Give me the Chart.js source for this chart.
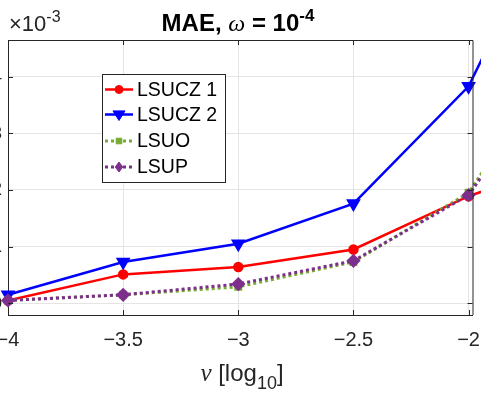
<!DOCTYPE html>
<html>
<head>
<meta charset="utf-8">
<script src="https://cdn.jsdelivr.net/npm/chart.js@4/dist/chart.umd.min.js"></script>
<style>
html, body { margin: 0; padding: 0; background: #fff; overflow: hidden; }
#wrap { position: relative; width: 481px; height: 396px; overflow: hidden; }
#c { position: absolute; left: -50px; top: 0; }
</style>
</head>
<body>
<div id="wrap"><canvas id="c" width="531" height="396"></canvas></div>
<script>
// values in units of 1e-3
var nu = [-4, -3.5, -3, -2.5, -2, -1.5];
var lsucz1 = [0.05, 0.51, 0.64, 0.95, 1.89, 2.6];
var lsucz2 = [0.15, 0.73, 1.05, 1.76, 3.83, 8.0];
var lsuo = [0.05, 0.15, 0.29, 0.73, 1.95, 5.0];
var lsup = [0.05, 0.15, 0.34, 0.75, 1.91, 4.8];
var xTicks = [-4, -3.5, -3, -2.5, -2];
var yTicks = [0, 1, 2, 3, 4];

var sans = '"Liberation Sans", Arial, sans-serif';
var serif = '"Liberation Serif", "DejaVu Serif", serif';
var axisColor = '#262626';

function pts(ys) {
	return nu.map(function(x, i) { return { x: x, y: ys[i] }; });
}

function minus(v) {
	return String(v).replace('-', '\u2212');
}

// draw a row of text pieces (for super/subscripts)
function drawPieces(ctx, pieces, x, y, align) {
	var total = 0;
	pieces.forEach(function(p) { ctx.font = p.font; p.w = ctx.measureText(p.t).width; total += p.w; });
	var cx = align === 'center' ? x - total / 2 : x;
	ctx.textAlign = 'left';
	ctx.textBaseline = 'alphabetic';
	pieces.forEach(function(p) {
		ctx.font = p.font;
		ctx.fillStyle = p.color || axisColor;
		ctx.fillText(p.t, cx, y + (p.dy || 0));
		cx += p.w;
	});
}

function marker(ctx, ds, x, y) {
	var r = ds.pointRadius;
	ctx.save();
	ctx.fillStyle = ds.pointBackgroundColor;
	ctx.strokeStyle = ds.pointBorderColor;
	ctx.lineWidth = 1;
	ctx.beginPath();
	if (ds.pointStyle === 'circle') {
		ctx.arc(x, y, r, 0, Math.PI * 2);
	} else if (ds.pointStyle === 'triangle') {
		ctx.moveTo(x - r, y - r * 0.6);
		ctx.lineTo(x + r, y - r * 0.6);
		ctx.lineTo(x, y + r);
	} else if (ds.pointStyle === 'rect') {
		ctx.rect(x - r * 0.8, y - r * 0.8, r * 1.6, r * 1.6);
	} else {
		ctx.moveTo(x, y - r);
		ctx.lineTo(x + r * 0.75, y);
		ctx.lineTo(x, y + r);
		ctx.lineTo(x - r * 0.75, y);
	}
	ctx.closePath();
	ctx.fill();
	ctx.stroke();
	ctx.restore();
}

var decor = {
	id: 'decor',
	afterDraw: function(chart) {
		var ctx = chart.ctx, ca = chart.chartArea;
		var xs = chart.scales.x, ys = chart.scales.y;
		ctx.save();

		// box top and right
		ctx.strokeStyle = axisColor;
		ctx.lineWidth = 1;
		ctx.beginPath();
		ctx.moveTo(ca.left, ca.top + 0.5);
		ctx.lineTo(ca.right + 0.5, ca.top + 0.5);
		ctx.lineTo(ca.right + 0.5, ca.bottom);
		ctx.stroke();

		// inward ticks
		ctx.beginPath();
		xTicks.forEach(function(v) {
			var px = Math.round(xs.getPixelForValue(v)) + 0.5;
			ctx.moveTo(px, ca.bottom); ctx.lineTo(px, ca.bottom - 5);
			ctx.moveTo(px, ca.top); ctx.lineTo(px, ca.top + 5);
		});
		yTicks.forEach(function(v) {
			var py = Math.round(ys.getPixelForValue(v)) + 0.5;
			ctx.moveTo(ca.left, py); ctx.lineTo(ca.left + 5, py);
			ctx.moveTo(ca.right, py); ctx.lineTo(ca.right - 5, py);
		});
		ctx.stroke();

		// title
		drawPieces(ctx, [
			{ t: 'MAE, ', font: 'bold 24px ' + sans, color: '#000' },
			{ t: '\u03c9', font: 'italic 24px ' + serif, color: '#000' },
			{ t: ' = 10', font: 'bold 24px ' + sans, color: '#000' },
			{ t: '-4', font: 'bold 17px ' + sans, color: '#000', dy: -10 }
		], 288, 31, 'center');

		// exponent label
		drawPieces(ctx, [
			{ t: '\u00d710', font: '22px ' + sans },
			{ t: '-3', font: '16px ' + sans, dy: -9 }
		], 59, 31, 'left');

		// x axis title
		drawPieces(ctx, [
			{ t: '\u03bd', font: 'italic 25px ' + serif },
			{ t: ' [log', font: '24px ' + sans },
			{ t: '10', font: '18px ' + sans, dy: 8 },
			{ t: ']', font: '24px ' + sans }
		], 292, 381, 'center');

		// legend
		var lx = 152, ly = 74, lw = 123, lh = 108;
		ctx.fillStyle = '#fff';
		ctx.fillRect(lx, ly, lw, lh);
		ctx.strokeStyle = axisColor;
		ctx.lineWidth = 1;
		ctx.strokeRect(lx + 0.5, ly + 0.5, lw, lh);
		var rows = [89.5, 114.5, 141, 167];
		chart.data.datasets.forEach(function(ds, i) {
			var y = rows[i];
			ctx.save();
			ctx.strokeStyle = ds.borderColor;
			ctx.lineWidth = ds.borderWidth;
			ctx.setLineDash(ds.borderDash || []);
			ctx.beginPath();
			ctx.moveTo(155, y); ctx.lineTo(183, y);
			ctx.stroke();
			ctx.restore();
			marker(ctx, ds, 169, y);
			ctx.font = '19.5px ' + sans;
			ctx.fillStyle = '#000';
			ctx.textAlign = 'left';
			ctx.textBaseline = 'middle';
			ctx.fillText(ds.label, 187, y + 1);
		});
		ctx.restore();
	}
};

new Chart(document.getElementById('c'), {
	type: 'line',
	data: {
		datasets: [
			{ label: 'LSUCZ 1', data: pts(lsucz1), borderColor: '#ff0000', backgroundColor: '#ff0000',
				pointBackgroundColor: '#ff0000', pointBorderColor: '#ff0000', borderWidth: 2.5,
				pointStyle: 'circle', pointRadius: 4, order: 4 },
			{ label: 'LSUCZ 2', data: pts(lsucz2), borderColor: '#0000ff', backgroundColor: '#0000ff',
				pointBackgroundColor: '#0000ff', pointBorderColor: '#0000ff', borderWidth: 2.5,
				pointStyle: 'triangle', pointRotation: 180, pointRadius: 6, order: 3 },
			{ label: 'LSUO', data: pts(lsuo), borderColor: '#77ac30', backgroundColor: '#77ac30',
				pointBackgroundColor: '#77ac30', pointBorderColor: '#77ac30', borderWidth: 3,
				borderDash: [3, 3], pointStyle: 'rect', pointRadius: 3.5, order: 2 },
			{ label: 'LSUP', data: pts(lsup), borderColor: '#7e2f8e', backgroundColor: '#7e2f8e',
				pointBackgroundColor: '#7e2f8e', pointBorderColor: '#7e2f8e', borderWidth: 3,
				borderDash: [3, 3], pointStyle: 'rectRot', pointRadius: 5, order: 1 }
		]
	},
	options: {
		responsive: false,
		animation: false,
		clip: false,
		layout: { padding: { left: 0, right: 4, top: 40, bottom: 0 } },
		plugins: { legend: { display: false }, title: { display: false }, tooltip: { enabled: false } },
		elements: { line: { tension: 0, borderCapStyle: 'butt' } },
		scales: {
			x: {
				type: 'linear', min: -4, max: -1.983,
				afterBuildTicks: function(s) { s.ticks = xTicks.map(function(v) { return { value: v }; }); },
				afterFit: function(s) { s.height = 81; s.paddingLeft = 0; s.paddingRight = 0; },
				grid: { color: '#e4e4e4', lineWidth: 1, drawTicks: false },
				border: { display: true, color: axisColor, width: 1 },
				ticks: { font: { family: sans, size: 20 }, color: axisColor, padding: 13, maxRotation: 0,
					callback: function(v) { return minus(v); } }
			},
			y: {
				type: 'linear', min: -0.207, max: 4.648,
				afterBuildTicks: function(s) { s.ticks = yTicks.map(function(v) { return { value: v }; }); },
				afterFit: function(s) { s.width = 58; s.paddingTop = 0; s.paddingBottom = 0; },
				grid: { color: '#e4e4e4', lineWidth: 1, drawTicks: false },
				border: { display: true, color: axisColor, width: 1 },
				ticks: { font: { family: sans, size: 19 }, color: axisColor, padding: 6,
					callback: function(v) { return minus(v); } }
			}
		}
	},
	plugins: [decor]
});
</script>
</body>
</html>
